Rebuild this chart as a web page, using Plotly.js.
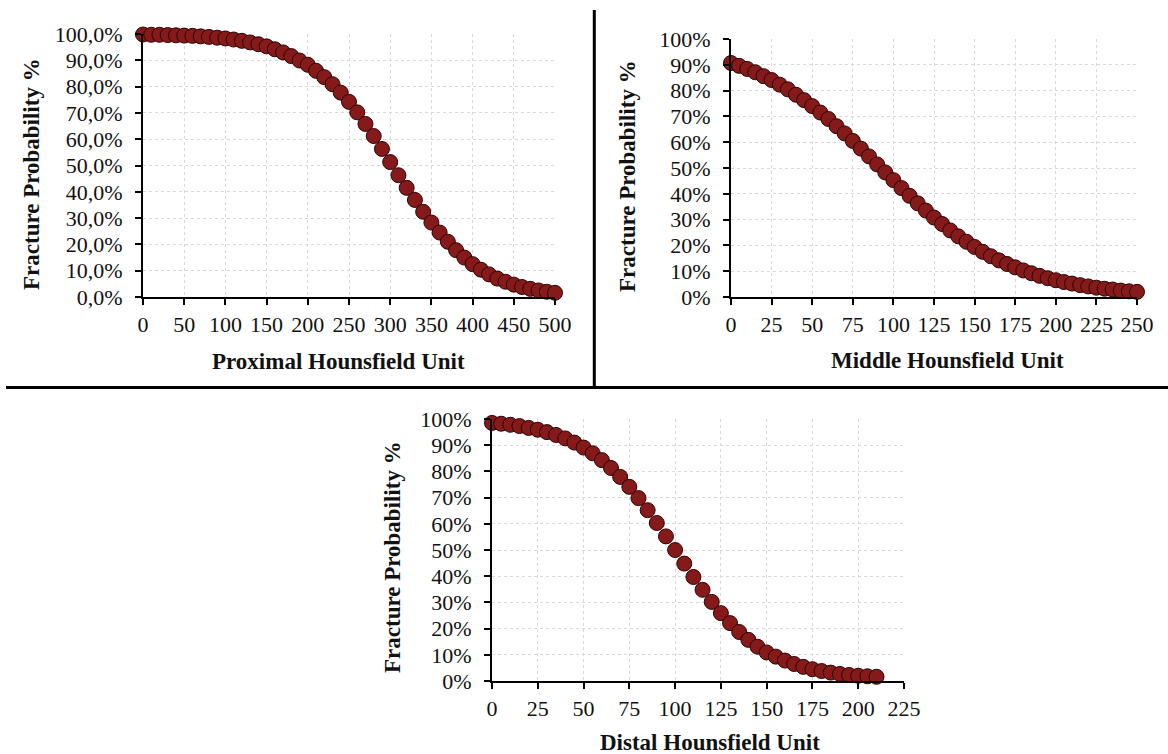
<!DOCTYPE html>
<html>
<head>
<meta charset="utf-8">
<script src="https://cdn.plot.ly/plotly-3.0.1.min.js"></script>
<style>
html,body{margin:0;padding:0;background:#fff;}
#chart{width:1168px;height:754px;}
</style>
</head>
<body>
<div id="chart"></div>
<script>
// ---- Data ----
const proximalHU = [0,10,20,30,40,50,60,70,80,90,100,110,120,130,140,150,160,170,180,190,200,210,220,230,240,250,260,270,280,290,300,310,320,330,340,350,360,370,380,390,400,410,420,430,440,450,460,470,480,490,500];
const proximalProb = [0.998,0.997,0.997,0.996,0.995,0.994,0.993,0.991,0.989,0.986,0.983,0.979,0.974,0.968,0.961,0.953,0.942,0.930,0.916,0.899,0.883,0.860,0.836,0.809,0.777,0.742,0.702,0.658,0.612,0.563,0.513,0.463,0.415,0.369,0.324,0.283,0.245,0.210,0.178,0.150,0.125,0.104,0.086,0.070,0.058,0.047,0.038,0.031,0.025,0.020,0.016];

const middleHU = [0,5,10,15,20,25,30,35,40,45,50,55,60,65,70,75,80,85,90,95,100,105,110,115,120,125,130,135,140,145,150,155,160,165,170,175,180,185,190,195,200,205,210,215,220,225,230,235,240,245,250];
const middleProb = [0.907,0.896,0.884,0.871,0.856,0.841,0.823,0.805,0.784,0.763,0.740,0.715,0.690,0.662,0.634,0.605,0.575,0.545,0.514,0.483,0.453,0.422,0.392,0.363,0.335,0.308,0.283,0.258,0.235,0.214,0.194,0.175,0.158,0.142,0.128,0.115,0.103,0.092,0.082,0.073,0.065,0.058,0.052,0.046,0.041,0.036,0.032,0.029,0.025,0.022,0.020];

const distalHU = [0,5,10,15,20,25,30,35,40,45,50,55,60,65,70,75,80,85,90,95,100,105,110,115,120,125,130,135,140,145,150,155,160,165,170,175,180,185,190,195,200,205,210];
const distalProb = [0.985,0.982,0.978,0.973,0.966,0.959,0.950,0.939,0.926,0.910,0.891,0.869,0.843,0.813,0.779,0.741,0.698,0.652,0.603,0.552,0.500,0.448,0.397,0.348,0.302,0.259,0.221,0.187,0.157,0.131,0.109,0.093,0.078,0.065,0.054,0.045,0.038,0.032,0.027,0.023,0.020,0.018,0.016];

const yTickVals = [0,0.1,0.2,0.3,0.4,0.5,0.6,0.7,0.8,0.9,1.0];
const yTickTextDecimal = ["0,0%","10,0%","20,0%","30,0%","40,0%","50,0%","60,0%","70,0%","80,0%","90,0%","100,0%"];
const yTickTextInt = ["0%","10%","20%","30%","40%","50%","60%","70%","80%","90%","100%"];

const proximalXTicks = [0,50,100,150,200,250,300,350,400,450,500];
const middleXTicks = [0,25,50,75,100,125,150,175,200,225,250];
const distalXTicks = [0,25,50,75,100,125,150,175,200,225];

const yTitle = "Fracture Probability %";
const xTitles = ["Proximal Hounsfield Unit","Middle Hounsfield Unit","Distal Hounsfield Unit"];

// ---- Layout helpers ----
const W = 1168, H = 754;
const FONT = "Liberation Serif, Times New Roman, serif";
function px(x){ return x / W; }
function py(y){ return 1 - y / H; }

const markerStyle = {
  size: 15,
  color: '#861a1a',
  line: {color: '#2a0505', width: 1}
};

function trace(x, y, xa, ya){
  return {
    x: x, y: y, xaxis: xa, yaxis: ya,
    type: 'scatter', mode: 'markers',
    marker: markerStyle, cliponaxis: false,
    hoverinfo: 'x+y'
  };
}

function xAxis(domain, range, ticks, anchor){
  return {
    domain: domain, range: range, anchor: anchor,
    tickvals: ticks, ticktext: ticks.map(String),
    showgrid: true, gridcolor: '#d9d9d9', griddash: 'dot', gridwidth: 1,
    zeroline: false, showline: true, linecolor: '#000', linewidth: 2,
    ticks: 'outside', ticklen: 6, tickwidth: 2, tickcolor: '#000',
    tickfont: {family: FONT, size: 22, color: '#111'},
    ticklabelstandoff: 1,
    fixedrange: true
  };
}
function yAxis(domain, ticktext, anchor){
  return {
    domain: domain, range: [0, 1], anchor: anchor,
    tickvals: yTickVals, ticktext: ticktext,
    showgrid: true, gridcolor: '#d9d9d9', griddash: 'dot', gridwidth: 1,
    zeroline: false, showline: true, linecolor: '#000', linewidth: 2,
    ticks: 'outside', ticklen: 6, tickwidth: 2, tickcolor: '#000',
    tickfont: {family: FONT, size: 22, color: '#111'},
    ticklabelstandoff: 8,
    fixedrange: true
  };
}

const data = [
  trace(proximalHU, proximalProb, 'x', 'y'),
  trace(middleHU, middleProb, 'x2', 'y2'),
  trace(distalHU, distalProb, 'x3', 'y3')
];

function yTitleAnn(x, y){
  return {xref:'paper', yref:'paper', x: px(x), y: py(y), text: '<b>'+yTitle+'</b>',
    showarrow:false, textangle:-90, xanchor:'center', yanchor:'middle',
    font:{family:FONT, size:23, color:'#111'}};
}
function xTitleAnn(text, x, y){
  return {xref:'paper', yref:'paper', x: px(x), y: py(y), text: '<b>'+text+'</b>',
    showarrow:false, xanchor:'center', yanchor:'middle',
    font:{family:FONT, size:23, color:'#111'}};
}

const layout = {
  width: W, height: H,
  margin: {l:0, r:0, t:0, b:0},
  paper_bgcolor: '#fff', plot_bgcolor: '#fff',
  showlegend: false,
  xaxis: xAxis([px(143), px(555)], [0, 500], proximalXTicks, 'y'),
  yaxis: yAxis([py(297), py(34)], yTickTextDecimal, 'x'),
  xaxis2: xAxis([px(731), px(1137)], [0, 250], middleXTicks, 'y2'),
  yaxis2: yAxis([py(297), py(39)], yTickTextInt, 'x2'),
  xaxis3: xAxis([px(492), px(904)], [0, 225], distalXTicks, 'y3'),
  yaxis3: yAxis([py(681), py(419)], yTickTextInt, 'x3'),
  annotations: [
    yTitleAnn(31, 174),
    yTitleAnn(627, 176),
    yTitleAnn(392, 557),
    xTitleAnn(xTitles[0], 338, 362),
    xTitleAnn(xTitles[1], 947, 360),
    xTitleAnn(xTitles[2], 710, 742)
  ],
  shapes: [
    {type:'line', xref:'paper', yref:'paper', x0: px(6), x1: 1, y0: py(387.5), y1: py(387.5),
     line:{color:'#000', width:3}},
    {type:'line', xref:'paper', yref:'paper', x0: px(594.3), x1: px(594.3), y0: py(10), y1: py(387.5),
     line:{color:'#000', width:3}}
  ]
};

Plotly.newPlot('chart', data, layout, {displayModeBar:false, staticPlot:true});
</script>
</body>
</html>
